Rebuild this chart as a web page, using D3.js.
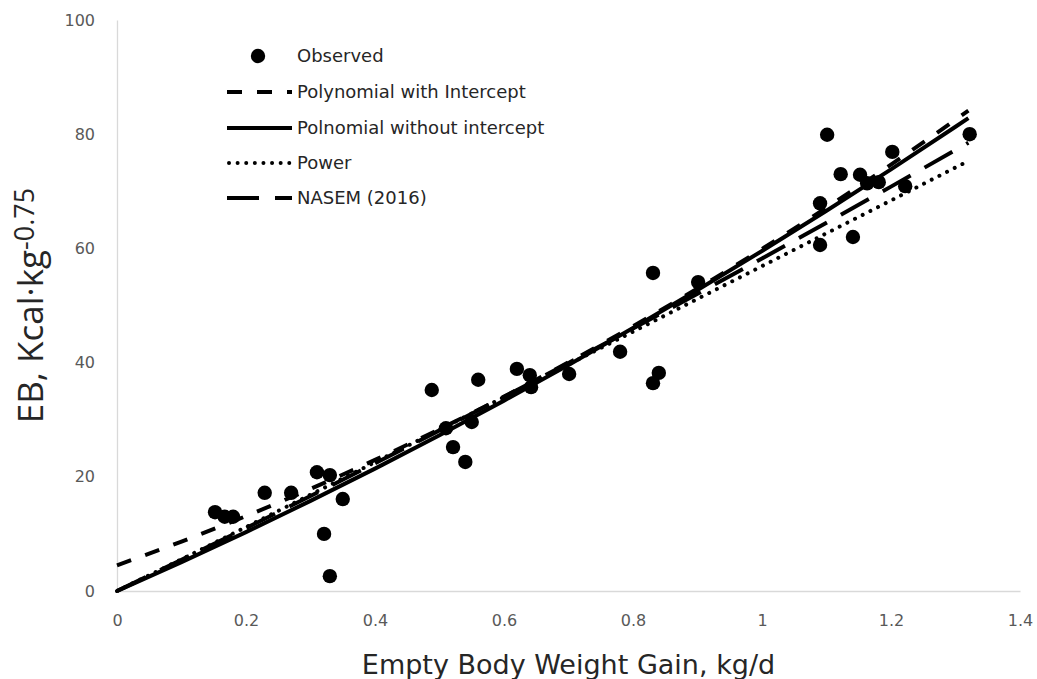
<!DOCTYPE html>
<html>
<head>
<meta charset="utf-8">
<script src="https://cdn.jsdelivr.net/npm/d3@7/dist/d3.min.js"></script>
<style>
  html, body { margin: 0; padding: 0; background: #fff; }
  svg { display: block; }
</style>
</head>
<body>
<svg id="chart" width="1037" height="679"></svg>
<script>
// Observed energy balance vs empty body weight gain
const obsGain = [0.152, 0.167, 0.180, 0.229, 0.270, 0.310, 0.330, 0.350, 0.321, 0.330,
                 0.488, 0.510, 0.521, 0.540, 0.550, 0.560, 0.620, 0.640, 0.642, 0.701,
                 0.780, 0.831, 0.840, 0.831, 0.901, 1.090, 1.090, 1.101, 1.122, 1.141,
                 1.152, 1.163, 1.181, 1.202, 1.222, 1.322];
const obsEB   = [13.8, 13.0, 13.0, 17.2, 17.2, 20.8, 20.3, 16.1, 10.0, 2.6,
                 35.2, 28.5, 25.2, 22.6, 29.6, 37.0, 38.9, 37.8, 35.7, 38.0,
                 41.9, 36.4, 38.2, 55.7, 54.1, 67.9, 60.6, 79.9, 73.0, 62.0,
                 72.9, 71.4, 71.6, 76.9, 70.9, 80.0];

// Fitted curves, sampled along the gain axis
const curveGain      = [0, 0.1, 0.2, 0.3, 0.4, 0.5, 0.6, 0.7, 0.8, 0.9, 1.0, 1.1, 1.2, 1.3, 1.32];
const polyIntercept  = [4.50, 8.65, 13.12, 17.89, 22.96, 28.35, 34.04, 40.05, 46.36, 52.97, 59.90, 67.13, 74.68, 82.53, 84.13];
const polyNoIntercept= [0, 5.06, 10.32, 15.78, 21.43, 27.29, 33.34, 39.60, 46.05, 52.70, 59.55, 66.60, 73.85, 81.30, 82.81];
const powerFit       = [0, 5.56, 11.20, 16.87, 22.55, 28.25, 33.97, 39.69, 45.42, 51.16, 56.90, 62.65, 68.40, 74.17, 75.32];
const nasem2016      = [0, 5.47, 11.02, 16.64, 22.35, 28.13, 34.00, 39.94, 45.96, 52.05, 58.23, 64.49, 70.82, 77.23, 78.52];

const xTicks = [0, 0.2, 0.4, 0.6, 0.8, 1, 1.2, 1.4];
const yTicks = [0, 20, 40, 60, 80, 100];

const seriesNames = ["Polynomial with Intercept", "Polnomial without intercept", "Power", "NASEM (2016)"];
const seriesData  = [polyIntercept, polyNoIntercept, powerFit, nasem2016];
const seriesDash  = ["15,15", null, "0.01,8.6", "32,16"];

const svg = d3.select("#chart");
const plot = { left: 117, right: 1020, top: 20, bottom: 591 };

const x = d3.scaleLinear().domain([0, 1.4]).range([plot.left, plot.right]);
const y = d3.scaleLinear().domain([0, 100]).range([plot.bottom, plot.top]);

const tickFont = "'DejaVu Sans', sans-serif";

// Axes
const yAxis = svg.append("g")
  .attr("transform", `translate(${plot.left},0)`)
  .call(d3.axisLeft(y).tickValues(yTicks).tickSize(0).tickPadding(22).tickFormat(d3.format("d")));
yAxis.select(".domain").attr("stroke", "#d9d9d9").attr("stroke-width", 1.3);
yAxis.selectAll("text").attr("fill", "#595959").style("font-family", tickFont).style("font-size", "16px");

const xAxis = svg.append("g")
  .attr("transform", `translate(0,${plot.bottom})`)
  .call(d3.axisBottom(x).tickValues(xTicks).tickSize(0).tickPadding(24).tickFormat(d => String(d)));
xAxis.select(".domain").attr("stroke", "#d9d9d9").attr("stroke-width", 1.3);
xAxis.selectAll("text").attr("fill", "#595959").style("font-family", tickFont).style("font-size", "16px");

// Curves
const line = d3.line().x(d => x(d[0])).y(d => y(d[1])).curve(d3.curveMonotoneX);
seriesData.forEach((vals, i) => {
  const pts = curveGain.map((g, j) => [g, vals[j]]);
  const p = svg.append("path")
    .datum(pts)
    .attr("d", line)
    .attr("fill", "none")
    .attr("stroke", "#000")
    .attr("stroke-width", 4);
  if (seriesDash[i]) p.attr("stroke-dasharray", seriesDash[i]);
  if (i === 2) p.attr("stroke-linecap", "round");
});

// Observed points
svg.append("g").selectAll("circle")
  .data(obsGain.map((g, i) => [g, obsEB[i]]))
  .join("circle")
  .attr("cx", d => x(d[0]))
  .attr("cy", d => y(d[1]))
  .attr("r", 7.2)
  .attr("fill", "#000");

// Axis titles
svg.append("text")
  .attr("x", (plot.left + plot.right) / 2)
  .attr("y", 674)
  .attr("text-anchor", "middle")
  .style("font-family", "'DejaVu Sans', sans-serif")
  .style("font-size", "27px")
  .attr("fill", "#262626")
  .text("Empty Body Weight Gain, kg/d");

const yTitle = svg.append("text")
  .attr("transform", `translate(43,${(plot.top + plot.bottom) / 2}) rotate(-90)`)
  .attr("text-anchor", "middle")
  .style("font-family", "'Open Sans', sans-serif")
  .style("font-size", "35px")
  .attr("fill", "#262626");
yTitle.append("tspan").text("EB, Kcal·kg");
yTitle.append("tspan").attr("dy", -9).style("font-size", "27px").text("-0.75");

// Legend
const legend = svg.append("g");
const legendTextX = 297;
const legendRows = [56, 92, 128, 163, 198];
legend.append("circle").attr("cx", 258).attr("cy", legendRows[0]).attr("r", 7.2).attr("fill", "#000");
legend.append("text").attr("x", legendTextX).attr("y", legendRows[0]).attr("dy", "0.35em")
  .style("font-family", tickFont).style("font-size", "18px").attr("fill", "#262626").text("Observed");
seriesNames.forEach((name, i) => {
  const ry = legendRows[i + 1];
  const l = legend.append("line")
    .attr("x1", 227).attr("x2", 292).attr("y1", ry).attr("y2", ry)
    .attr("stroke", "#000").attr("stroke-width", 4);
  if (seriesDash[i]) l.attr("stroke-dasharray", seriesDash[i]);
  if (i === 2) l.attr("stroke-linecap", "round").attr("x1", 229).attr("x2", 290);
  legend.append("text").attr("x", legendTextX).attr("y", ry).attr("dy", "0.35em")
    .style("font-family", tickFont).style("font-size", "18px").attr("fill", "#262626").text(name);
});
</script>
</body>
</html>
